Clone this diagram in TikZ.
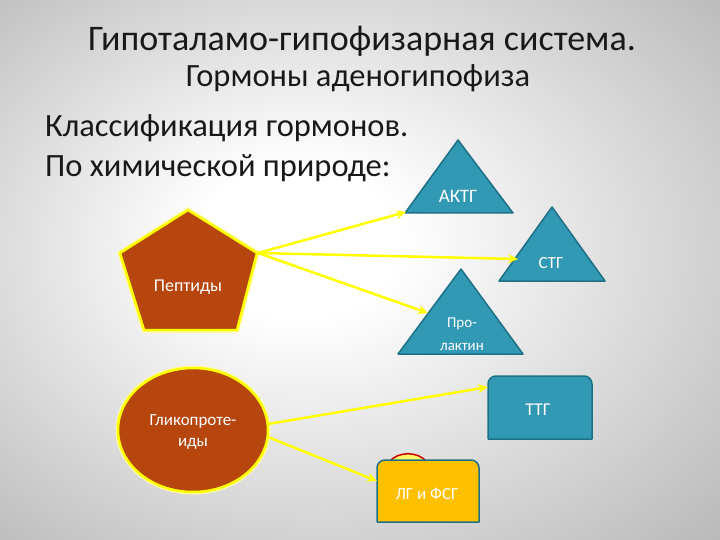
\documentclass[tikz,border=0pt]{standalone}
\usepackage{fontspec}
\setmainfont{Carlito}
\usetikzlibrary{arrows.meta}
\definecolor{hormteal}{RGB}{49,153,180}
\definecolor{hormedge}{RGB}{30,112,134}
\definecolor{classbrown}{RGB}{182,70,14}
\definecolor{glowyellow}{RGB}{255,255,0}
\definecolor{lgorange}{RGB}{255,192,0}
\definecolor{bggray}{RGB}{150,150,150}
\definecolor{headink}{RGB}{25,25,25}
\pgfdeclareradialshading{slidebg}{\pgfpoint{-5bp}{3bp}}{color(0bp)=(white);color(7bp)=(white);color(52bp)=(bggray)}
\tikzset{
  hormone/.style={fill=hormteal,draw=hormedge,line width=1.5pt,line join=round},
  classshape/.style={fill=classbrown,draw=glowyellow,line width=2.5pt,line join=round,
    preaction={draw=yellow!35,line width=5pt}},
  hormlabel/.style={text=white,font=\fontsize{18}{23}\selectfont,align=center,inner sep=0pt},
  classlabel/.style={text=white,font=\fontsize{18}{21}\selectfont,align=center,inner sep=0pt},
  heading/.style={text=headink,inner sep=0pt},
  feed/.style={draw=glowyellow,line width=2.5pt,-{Stealth[length=10pt,width=9pt]}}
}
\begin{document}
\begin{tikzpicture}[x=1pt,y=-1pt] % hormones of the adenohypophysis
        \shade[shading=slidebg] (0,0) rectangle (720,540);
        % headings
        \node[heading,font=\fontsize{36}{40}\selectfont,anchor=base] (title) at (362,51) {Гипоталамо-гипофизарная система.};
        \node[heading,font=\fontsize{32.5}{36}\selectfont,anchor=base] (subtitle) at (358,87) {Гормоны аденогипофиза};
        \node[heading,font=\fontsize{32.5}{36}\selectfont,anchor=base west] (classif) at (45,137) {Классификация гормонов.};
        \node[heading,font=\fontsize{32.5}{36}\selectfont,anchor=base west] (nature) at (45,177) {По химической природе:};
        % classes
        \filldraw[classshape](188,210)--(257,253)--(237,330)--(144,330)--(120,253)--cycle;
        \filldraw[classshape](193,430) ellipse (75 and 62);
        % hormones
        \filldraw[hormone](405,213)--(458,140)--(513,213)--cycle;
        \filldraw[hormone](499,281)--(552,207)--(605,281)--cycle;
        \filldraw[hormone](398,354)--(461,269)--(523,354)--cycle;
        \filldraw[hormone](488,439)--(488,384) arc[start angle=180,end angle=270,radius=8]
                --(584,376) arc[start angle=270,end angle=360,radius=8]--(592,439)--cycle;
        \filldraw[fill=yellow!60,draw=red!80!black,line width=1.5pt](389,462) .. controls (398,451) and (418,451) .. (427,462);
        \filldraw[hormone,fill=lgorange](377,522)--(377,468) arc[start angle=180,end angle=270,radius=8]
                --(471,460) arc[start angle=270,end angle=360,radius=8]--(479,522)--cycle;
        % labels
        \node[classlabel] (pep) at (188,287) {Пептиды};
        \node[classlabel,font=\fontsize{17}{21}\selectfont] (glyc) at (193,432) {Гликопроте-\\иды};
        \node[hormlabel,font=\fontsize{19}{23}\selectfont] (aktg) at (458,196) {АКТГ};
        \node[hormlabel,font=\fontsize{17}{23}\selectfont] (stg) at (551,263) {СТГ};
        \node[hormlabel,font=\fontsize{15}{23}\selectfont] (prl) at (462,334) {Про-\\лактин};
        \node[hormlabel] (ttg) at (538,410) {ТТГ};
        \node[hormlabel,font=\fontsize{17}{23}\selectfont] (lgfsg) at (427,494) {ЛГ и ФСГ};
        % connectors
        \coordinate (pep-out) at (258,253);
        \coordinate (glyc-out1) at (268,424);
        \coordinate (glyc-out2) at (268,437);
        \coordinate (aktg-in) at (406,212);
        \coordinate (stg-in) at (518,259);
        \coordinate (prl-in) at (428,313);
        \coordinate (ttg-in) at (488,387);
        \coordinate (lgfsg-in) at (377,481);
        \draw[feed](pep-out)--(aktg-in);
        \draw[feed](pep-out)--(stg-in);
        \draw[feed](pep-out)--(prl-in);
        \draw[feed](glyc-out1)--(ttg-in);
        \draw[feed](glyc-out2)--(lgfsg-in);
\end{tikzpicture}
\end{document}
